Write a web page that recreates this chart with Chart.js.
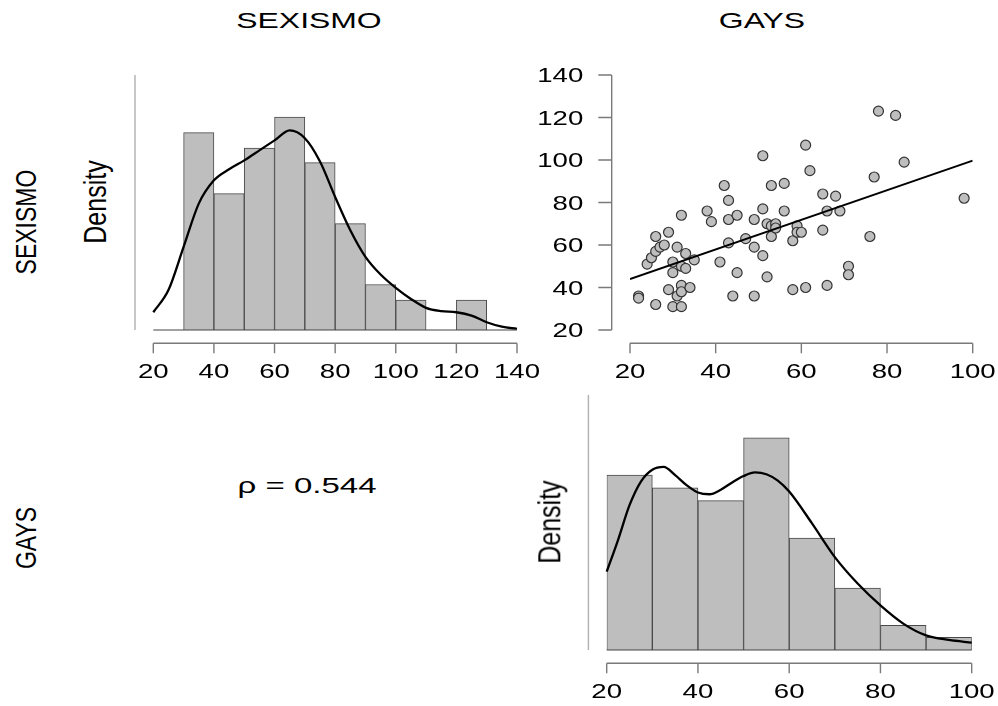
<!DOCTYPE html>
<html>
<head>
    <title>SEXISMO / GAYS</title>
    <script src="https://cdn.jsdelivr.net/npm/chart.js"></script>
    <style>
        body { margin: 0; background: #fff; }
        #page { position: relative; width: 998px; height: 706px; overflow: hidden; background: #fff; }
        canvas { position: absolute; }
        .lbl {
            position: absolute;
            font-family: "Liberation Sans", Arial, sans-serif;
            line-height: 1;
            white-space: nowrap;
            color: #000;
        }
    </style>
</head>
<body>
<div id="page">
    <canvas id="histSex" width="440" height="330" style="left:120px; top:60px;"></canvas>
    <canvas id="scatter" width="478" height="330" style="left:520px; top:60px;"></canvas>
    <canvas id="histGays" width="478" height="326" style="left:520px; top:380px;"></canvas>

    <div class="lbl" style="left:309px; top:21px; font-size:22px; transform:translate(-50%,-50%) scaleX(1.45);">SEXISMO</div>
    <div class="lbl" style="left:762px; top:21px; font-size:22px; transform:translate(-50%,-50%) scaleX(1.45);">GAYS</div>
    <div class="lbl" style="left:26px; top:222px; font-size:23px; transform:translate(-50%,-50%) scaleX(1.27) rotate(-90deg);">SEXISMO</div>
    <div class="lbl" style="left:26px; top:538px; font-size:23px; transform:translate(-50%,-50%) scaleX(1.27) rotate(-90deg);">GAYS</div>
    <div class="lbl" style="left:96px; top:202px; font-size:25px; transform:translate(-50%,-50%) scaleX(1.22) rotate(-90deg);">Density</div>
    <div class="lbl" style="left:550px; top:522px; font-size:25px; transform:translate(-50%,-50%) scaleX(1.22) rotate(-90deg);">Density</div>
    <div class="lbl" style="left:307px; top:486px; font-size:22px; transform:translate(-50%,-50%) scaleX(1.5);">&rho; = 0.544</div>
</div>

<script>
// --- data ---
// SEXISMO histogram (bins of 10, centres) and density
var sexBins = [35, 45, 55, 65, 75, 85, 95, 105, 115, 125];
var sexDensity = [0.0178, 0.0123, 0.0164, 0.0192, 0.0151, 0.0096, 0.0041, 0.0027, 0, 0.0027];
var sexCurveX = [20, 25, 30, 35, 40, 45, 50, 55, 60, 65, 70, 75, 80, 85, 90, 95, 100, 105, 110, 115, 120, 125, 130, 135, 140];
var sexCurveY = [0.0016, 0.0036, 0.0075, 0.0114, 0.0135, 0.0145, 0.0153, 0.0162, 0.0171, 0.0180, 0.0173, 0.0152, 0.0120, 0.0090, 0.0066, 0.0050, 0.0038, 0.0028, 0.0020, 0.0017, 0.0016, 0.0013, 0.0007, 0.0003, 0.0001];
var sexTicks = [20, 40, 60, 80, 100, 120, 140];

// GAYS histogram
var gaysBins = [25, 35, 45, 55, 65, 75, 85, 95];
var gaysDensity = [0.0192, 0.0178, 0.0164, 0.0233, 0.0123, 0.0068, 0.0027, 0.0014];
var gaysCurveX = [20, 22.5, 25, 27.5, 30, 32.5, 35, 37.5, 40, 42.5, 45, 47.5, 50, 52.5, 55, 57.5, 60, 65, 70, 75, 80, 85, 90, 95, 100];
var gaysCurveY = [0.0086, 0.0121, 0.0159, 0.0185, 0.0198, 0.0201, 0.0192, 0.0181, 0.0173, 0.0171, 0.0176, 0.0184, 0.0191, 0.0195, 0.0193, 0.0186, 0.0174, 0.0139, 0.0102, 0.0073, 0.0049, 0.0029, 0.0016, 0.0011, 0.0008];
var gaysTicks = [20, 40, 60, 80, 100];

// scatter: GAYS on x, SEXISMO on y
var gaysScore = [22, 22, 26, 24, 25, 26, 27, 26, 28, 29, 29, 30, 32, 31, 32, 32, 34, 30, 30, 31,
                 32, 33, 33, 35, 32, 38, 39, 41, 42, 43, 43, 43, 45, 44, 45, 47, 49, 49, 49, 51,
                 51, 51, 52, 53, 53, 53, 54, 54, 52, 56, 56, 58, 58, 59, 59, 60, 61, 61, 62, 65,
                 65, 66, 66, 68, 69, 71, 71, 76, 77, 78, 82, 84, 98];
var sexScore = [36, 35, 32, 51, 54, 57, 59, 64, 60, 66, 39, 31, 31, 36, 41, 38, 40, 47, 52, 59,
                50, 56, 49, 53, 74, 76, 71, 52, 88, 81, 72, 61, 74, 36, 47, 63, 72, 59, 36, 102,
                77, 55, 70, 88, 69, 64, 70, 68, 45, 89, 76, 62, 39, 69, 66, 66, 107, 40, 95, 84,
                67, 76, 41, 83, 76, 50, 46, 64, 92, 123, 121, 99, 82];
var fitX = [20, 100];
var fitY = [44, 99.7];
var scatterYTicks = [20, 40, 60, 80, 100, 120, 140];

function pts(xs, ys) {
    return xs.map(function (v, i) { return { x: v, y: ys[i] }; });
}

// wide-looking labels as in the reference
function wideText(ctx, txt, x, y, align) {
    ctx.save();
    ctx.translate(x, y);
    ctx.scale(1.38, 1);
    ctx.textAlign = align;
    ctx.textBaseline = 'alphabetic';
    ctx.fillText(txt, 0, 0);
    ctx.restore();
}

// R style axes, offset from the plot region
var rAxes = {
    id: 'rAxes',
    afterDraw: function (chart, args, opts) {
        var ctx = chart.ctx, a = chart.chartArea;
        var xs = chart.scales.x, ys = chart.scales.y;
        ctx.save();
        ctx.font = '20px "Liberation Sans", Arial, sans-serif';
        ctx.fillStyle = '#000';

        if (opts.hist) {
            // light frame line on the left and the zero line
            ctx.strokeStyle = '#b4b4b4';
            ctx.lineWidth = 1.5;
            ctx.beginPath();
            ctx.moveTo(a.left - 18.3, a.top);
            ctx.lineTo(a.left - 18.3, a.bottom);
            ctx.stroke();
            ctx.strokeStyle = '#444';
            ctx.lineWidth = 1.2;
            ctx.beginPath();
            ctx.moveTo(xs.getPixelForValue(xs.min), ys.getPixelForValue(0));
            ctx.lineTo(xs.getPixelForValue(xs.max), ys.getPixelForValue(0));
            ctx.stroke();
        }

        ctx.strokeStyle = '#7a7a7a';
        ctx.lineWidth = 1.4;
        var xt = opts.xTicks;
        var ay = a.bottom + 13.3;
        ctx.beginPath();
        ctx.moveTo(xs.getPixelForValue(xt[0]), ay);
        ctx.lineTo(xs.getPixelForValue(xt[xt.length - 1]), ay);
        xt.forEach(function (v) {
            var px = xs.getPixelForValue(v);
            ctx.moveTo(px, ay);
            ctx.lineTo(px, ay + 10);
        });
        ctx.stroke();
        xt.forEach(function (v) {
            wideText(ctx, String(v), xs.getPixelForValue(v), ay + 34.4, 'center');
        });

        if (opts.yTicks) {
            var yt = opts.yTicks;
            var ax = a.left - 18.3;
            ctx.beginPath();
            ctx.moveTo(ax, ys.getPixelForValue(yt[0]));
            ctx.lineTo(ax, ys.getPixelForValue(yt[yt.length - 1]));
            yt.forEach(function (v) {
                var py = ys.getPixelForValue(v);
                ctx.moveTo(ax, py);
                ctx.lineTo(ax - 13.4, py);
            });
            ctx.stroke();
            yt.forEach(function (v) {
                wideText(ctx, String(v), ax - 28.4, ys.getPixelForValue(v) + 7, 'right');
            });
        }
        ctx.restore();
    }
};

function histChart(id, bins, dens, cx, cy, xmin, xmax, ymax, pad, ticks) {
    return new Chart(document.getElementById(id), {
        data: {
            datasets: [{
                type: 'line',
                data: pts(cx, cy),
                borderColor: '#000',
                borderWidth: 2.3,
                pointRadius: 0,
                cubicInterpolationMode: 'monotone',
                clip: false,
                order: 0
            }, {
                type: 'bar',
                data: pts(bins, dens),
                backgroundColor: '#bebebe',
                borderColor: '#4a4a4a',
                borderWidth: 1,
                barPercentage: 1,
                categoryPercentage: 1,
                order: 1
            }]
        },
        options: {
            responsive: false,
            animation: false,
            events: [],
            layout: { padding: pad },
            scales: {
                x: { type: 'linear', min: xmin, max: xmax, offset: false, display: false, ticks: { stepSize: 10 } },
                y: { type: 'linear', min: 0, max: ymax, display: false }
            },
            plugins: {
                legend: { display: false },
                tooltip: { enabled: false },
                rAxes: { hist: true, xTicks: ticks }
            }
        },
        plugins: [rAxes]
    });
}

histChart('histSex', sexBins, sexDensity, sexCurveX, sexCurveY, 20, 140, 0.023,
    { left: 33.3, right: 43, top: 15, bottom: 60 }, sexTicks);

histChart('histGays', gaysBins, gaysDensity, gaysCurveX, gaysCurveY, 20, 100, 0.028,
    { left: 86.7, right: 26.3, top: 15, bottom: 56 }, gaysTicks);

new Chart(document.getElementById('scatter'), {
    data: {
        datasets: [{
            type: 'line',
            data: pts(fitX, fitY),
            borderColor: '#000',
            borderWidth: 2,
            pointRadius: 0,
            order: 0
        }, {
            type: 'scatter',
            data: pts(gaysScore, sexScore),
            pointRadius: 5,
            backgroundColor: '#bebebe',
            borderColor: '#333',
            borderWidth: 1.2,
            clip: false,
            order: 1
        }]
    },
    options: {
        responsive: false,
        animation: false,
        events: [],
        layout: { padding: { left: 110, right: 25.3, top: 15, bottom: 60 } },
        scales: {
            x: { type: 'linear', min: 20, max: 100, display: false },
            y: { type: 'linear', min: 20, max: 140, display: false }
        },
        plugins: {
            legend: { display: false },
            tooltip: { enabled: false },
            rAxes: { xTicks: gaysTicks, yTicks: scatterYTicks }
        }
    },
    plugins: [rAxes]
});
</script>
</body>
</html>
